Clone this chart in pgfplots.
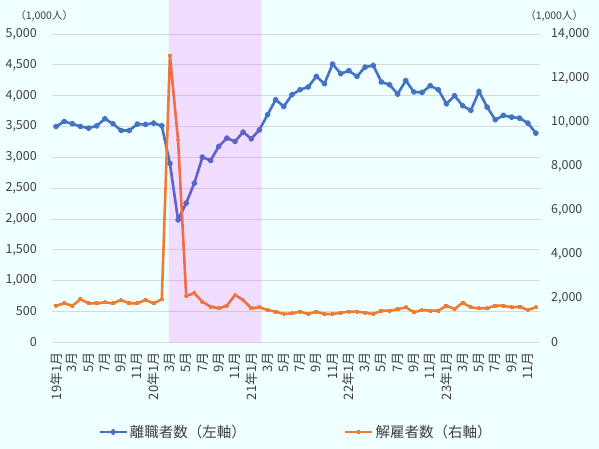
\documentclass[border=0pt]{standalone}
\usepackage{fontspec}
\setmainfont{Noto Sans CJK JP}
\usepackage{pgfplots}
\usepackage{pgfplotstable}
\pgfplotsset{compat=1.18}
\definecolor{bg}{HTML}{F0FFFF}
\definecolor{sblue}{HTML}{4472C4}
\definecolor{sorange}{HTML}{ED7D31}
\definecolor{txt}{HTML}{404040}
\definecolor{gridc}{HTML}{D9D9D9}
\definecolor{shade}{RGB}{255,0,255}

\pgfplotstableread{
idx quits layoffs
0 3500 1662
1 3581 1771
2 3544 1662
3 3500 1953
4 3474 1771
5 3511 1771
6 3625 1816
7 3544 1771
8 3435 1921
9 3435 1771
10 3539 1771
11 3533 1921
12 3555 1771
13 3511 1953
14 2900 13015
15 1985 9187
16 2257 2110
17 2581 2225
18 3003 1844
19 2948 1617
20 3176 1544
21 3311 1662
22 3257 2148
23 3409 1921
24 3300 1544
25 3446 1589
26 3690 1467
27 3934 1390
28 3825 1285
29 4015 1317
30 4096 1390
31 4140 1285
32 4312 1390
33 4193 1285
34 4513 1285
35 4356 1344
36 4404 1390
37 4312 1390
38 4464 1344
39 4490 1285
40 4221 1435
41 4177 1435
42 4026 1499
43 4245 1589
44 4059 1362
45 4052 1467
46 4161 1435
47 4096 1435
48 3868 1662
49 3998 1512
50 3836 1798
51 3760 1589
52 4068 1544
53 3815 1544
54 3609 1662
55 3679 1662
56 3652 1589
57 3636 1617
58 3555 1467
59 3393 1589
}\datatable

\pgfplotsset{
  common/.style={
    at={(52pt,106.7pt)}, anchor=south west,
    scale only axis, width=488pt, height=308.3pt,
    xmin=-0.5, xmax=59.5,
    major tick length=0pt,
    scaled y ticks=false,
    /pgf/number format/assume math mode=true,
    /pgf/number format/fixed,
    /pgf/number format/1000 sep={,},
    ticklabel style={font=\fontsize{12.5}{12.5}\selectfont, text=txt, inner sep=0pt},
  },
}

\begin{document}
\begin{tikzpicture}[x=1pt,y=1pt]
\fill[bg] (0,0) rectangle (599,449);
\useasboundingbox (0,0) rectangle (599,449);
\begin{axis}[common,
  ymin=0, ymax=5000, ytick={0,500,...,5000},
  ymajorgrids, grid style={gridc, line width=0.8pt},
  axis line style={draw=none},
  xtick={0,2,...,58},
  xticklabels={19年1月,3月,5月,7月,9月,11月,20年1月,3月,5月,7月,9月,11月,21年1月,3月,5月,7月,9月,11月,22年1月,3月,5月,7月,9月,11月,23年1月,3月,5月,7月,9月,11月},
  xticklabel style={rotate=90, anchor=east, font=\fontsize{13}{13}\selectfont},
  xticklabel shift=10pt,
  yticklabel style={anchor=east},
  yticklabel shift=15pt,
]
\addplot[sblue, line width=2.6pt, mark=*, mark size=1.8pt, line join=round] table[x=idx, y=quits] {\datatable};
\end{axis}
\begin{axis}[common,
  ymin=0, ymax=14000, ytick={0,2000,...,14000},
  hide x axis, axis y line*=right,
  y axis line style={draw=none},
  yticklabel style={anchor=west},
  yticklabel shift=11pt,
  clip=false,
  legend style={at={(0.5,-0.291)}, anchor=center, draw=none, fill=none,
    legend columns=2, font=\fontsize{14.5}{14.5}\selectfont, text=txt,
    /tikz/every even column/.append style={column sep=96pt}},
  legend image code/.code={\draw[#1] (0pt,0pt) -- (27pt,0pt); \draw[#1] plot coordinates {(13.5pt,0pt)};},
]
\addlegendimage{sblue, line width=2.6pt, mark=*, mark size=1.5pt}
\addlegendentry{離職者数（左軸）}
\addplot[sorange, line width=2.6pt, mark=+, mark size=2pt, line join=round] table[x=idx, y=layoffs] {\datatable};
\addlegendentry{解雇者数（右軸）}
\addplot[draw=none, fill=shade, fill opacity=0.13, forget plot] coordinates {(13.88,0) (13.88,15544) (25.28,15544) (25.28,0)} \closedcycle;
\end{axis}
\node[font=\fontsize{10.5}{10.5}\selectfont, text=txt] at (44.2,433.3) {（1,000人）};
\node[font=\fontsize{10.5}{10.5}\selectfont, text=txt] at (554.2,433.3) {（1,000人）};
\end{tikzpicture}
\end{document}
